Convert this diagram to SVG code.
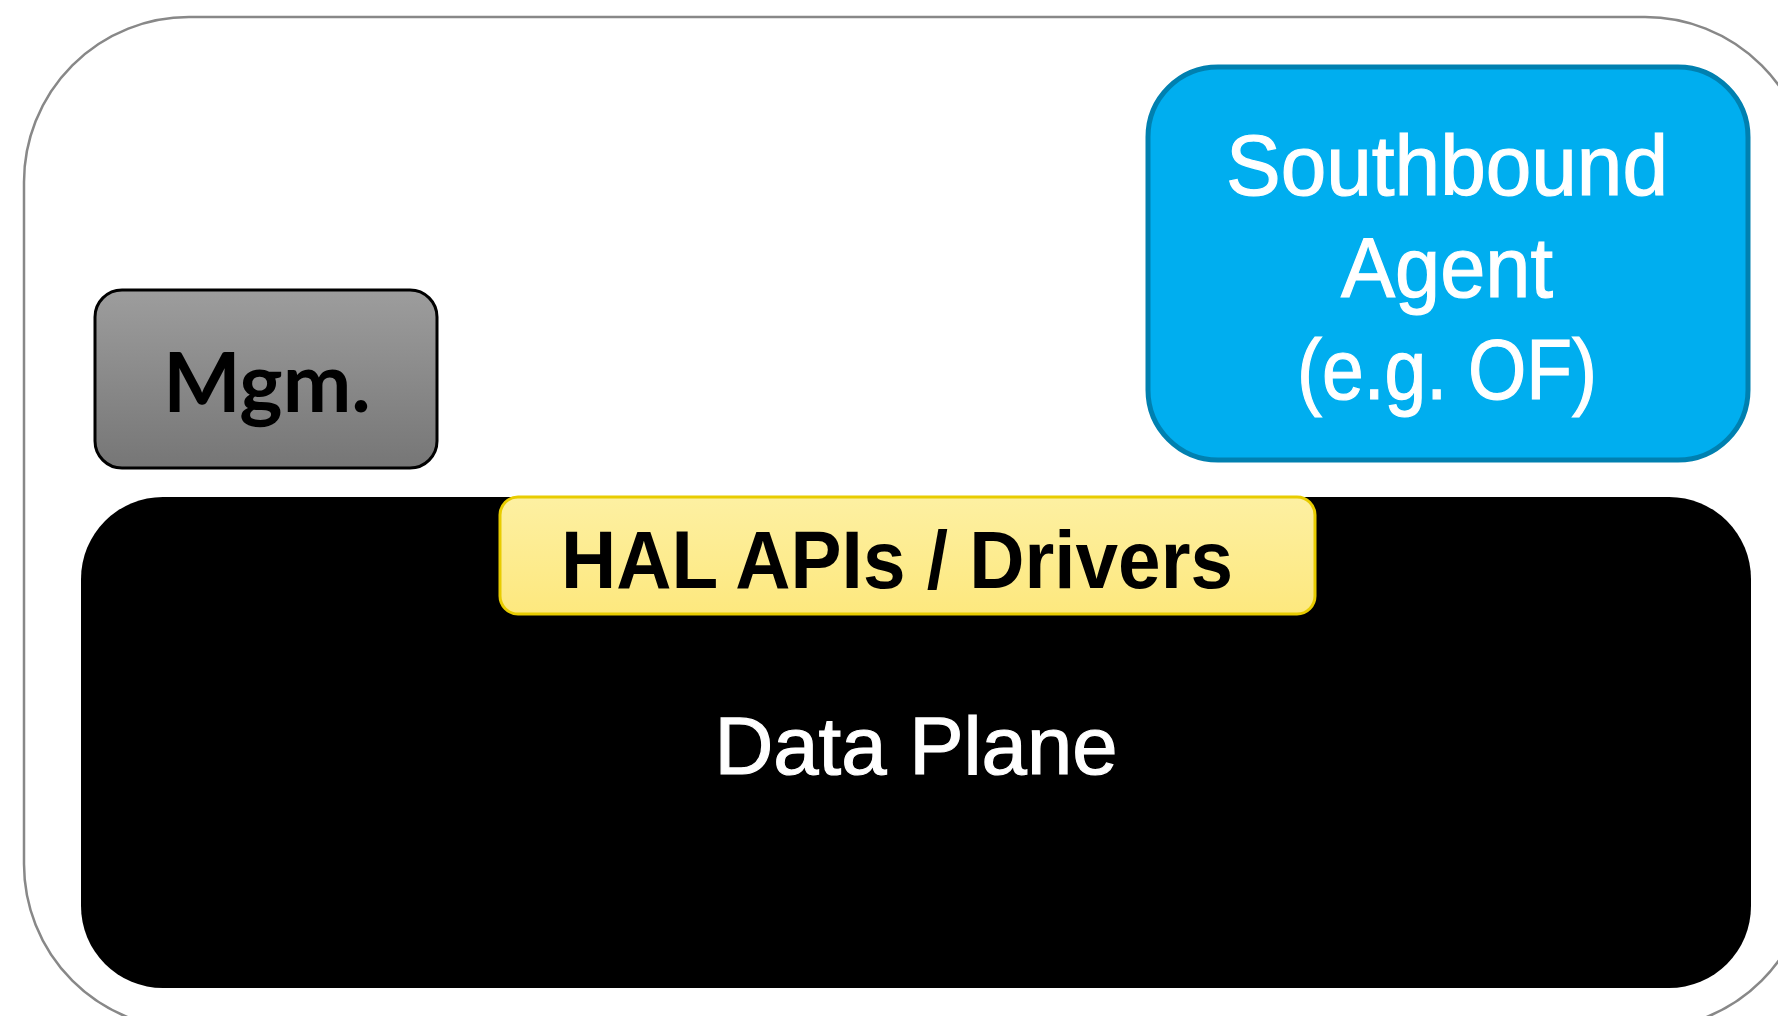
<svg xmlns="http://www.w3.org/2000/svg" width="1778" height="1016" viewBox="0 0 1778 1016">
<defs>
<linearGradient id="gGray" x1="0" y1="0" x2="0" y2="1"><stop offset="0" stop-color="#9d9d9d"/><stop offset="1" stop-color="#767676"/></linearGradient>
<linearGradient id="gYel" x1="0" y1="0" x2="0" y2="1"><stop offset="0" stop-color="#fdf0a2"/><stop offset="1" stop-color="#fde87e"/></linearGradient>
</defs>
<style>
.lbl{font-family:"Liberation Sans",Arial,sans-serif;text-anchor:middle;fill:#ffffff;stroke:#ffffff;stroke-width:1.2}
</style>
<rect width="1778" height="1016" fill="#ffffff"/>
<g id="device"><rect x="24" y="17" width="1786" height="1012" rx="165" ry="165" fill="#ffffff" stroke="#888888" stroke-width="2.5"/></g>
<g id="dataplane">
<rect x="81" y="497" width="1670" height="491" rx="82" ry="82" fill="#000000"/>
<text class="lbl" x="916" y="774" font-size="81" textLength="403" lengthAdjust="spacingAndGlyphs">Data Plane</text>
</g>
<g id="mgm">
<rect x="95" y="290" width="342" height="178" rx="27" ry="27" fill="url(#gGray)" stroke="#000000" stroke-width="3"/>
<text x="267" y="412" font-family="Lato,'Liberation Sans',sans-serif" font-weight="bold" font-size="82" text-anchor="middle" fill="#000000">Mgm.</text>
</g>
<g id="southbound">
<rect x="1148" y="67" width="600" height="393" rx="70" ry="70" fill="#00aeef" stroke="#0080b0" stroke-width="5"/>
<text class="lbl" font-size="86"><tspan x="1447" y="195" textLength="442" lengthAdjust="spacingAndGlyphs">Southbound</tspan><tspan x="1447" y="297" textLength="212" lengthAdjust="spacingAndGlyphs">Agent</tspan><tspan x="1447" y="399" textLength="300" lengthAdjust="spacingAndGlyphs">(e.g. OF)</tspan></text>
</g>
<g id="hal">
<rect x="500" y="497" width="815" height="117" rx="18" ry="18" fill="url(#gYel)" stroke="#e8cc00" stroke-width="3"/>
<text x="561" y="588" font-family="'Liberation Sans',Arial,sans-serif" font-weight="bold" font-size="81" textLength="672" lengthAdjust="spacingAndGlyphs" fill="#000000">HAL APIs / Drivers</text>
</g>
<g id="connectors"/>
</svg>
